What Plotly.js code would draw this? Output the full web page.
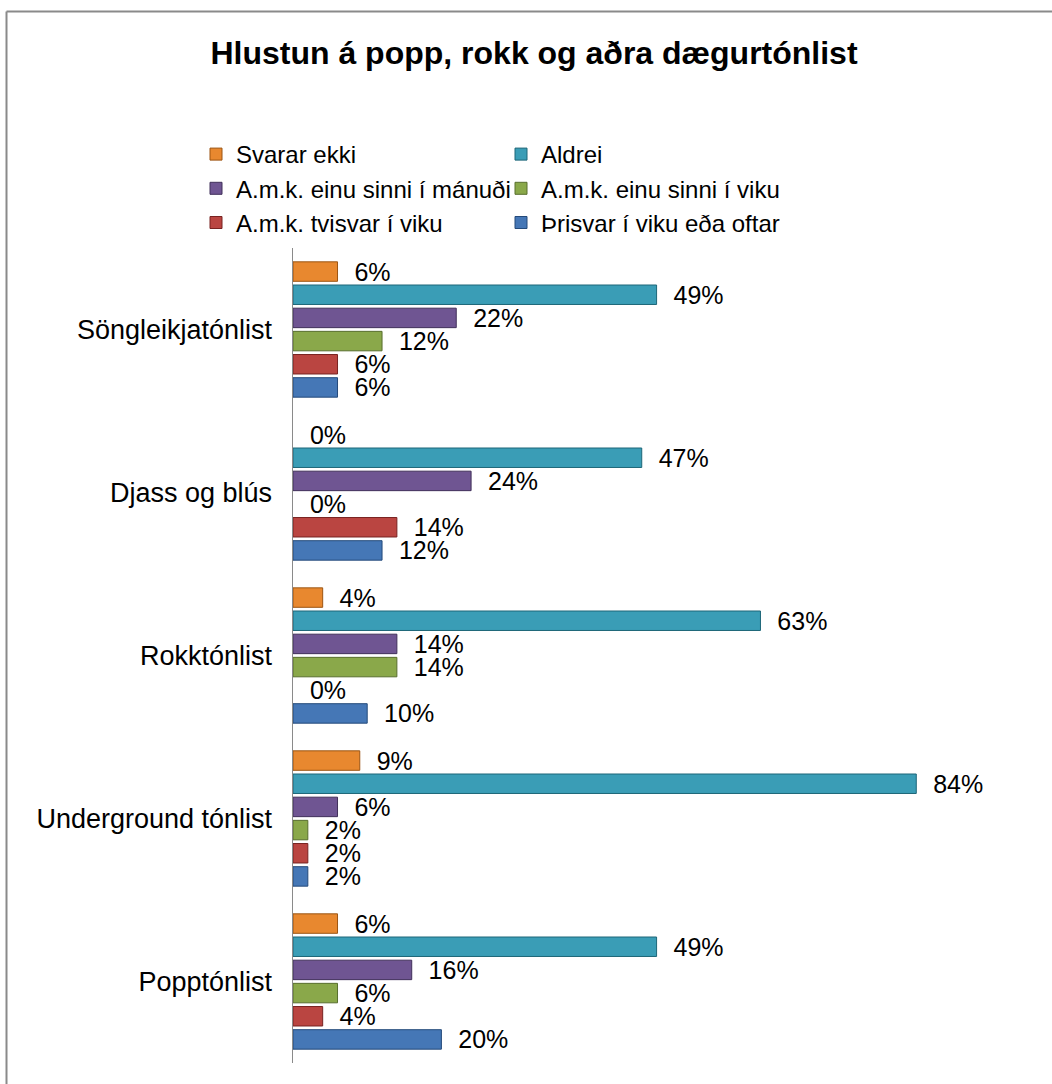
<!DOCTYPE html>
<html>
<head>
<meta charset="utf-8">
<script src="https://cdn.plot.ly/plotly-3.0.1.min.js"></script>
<style>
  html, body { margin: 0; padding: 0; background: #fff; }
  #chart { width: 1052px; height: 1084px; }
</style>
</head>
<body>
<div id="chart"></div>
<script>
// Categories (top to bottom as shown)
const categories = ['Söngleikjatónlist', 'Djass og blús', 'Rokktónlist', 'Underground tónlist', 'Popptónlist'];

// Series names
const seriesNames = [
  'Svarar ekki',
  'Aldrei',
  'A.m.k. einu sinni í mánuði',
  'A.m.k. einu sinni í viku',
  'A.m.k. tvisvar í viku',
  'Þrisvar í viku eða oftar'
];

// Series values (%) per category
const svararEkki = [6, 0, 4, 9, 6];
const aldrei     = [49, 47, 63, 84, 49];
const manudi     = [22, 24, 14, 6, 16];
const einuViku   = [12, 0, 14, 2, 6];
const tvisvar    = [6, 14, 0, 2, 4];
const thrisvar   = [6, 12, 10, 2, 20];

const seriesValues = [svararEkki, aldrei, manudi, einuViku, tvisvar, thrisvar];

const fillColors = ['#E8882F', '#3A9DB6', '#6F5592', '#8AA84A', '#BA4541', '#4577B6'];
const lineColors = ['#9C5513', '#1D6678', '#40305A', '#586E2D', '#782321', '#244A7A'];

const FONT = 'Liberation Sans, Arial, sans-serif';

const traces = seriesNames.map((name, i) => ({
  type: 'bar',
  orientation: 'h',
  name: name,
  y: categories,
  x: seriesValues[i],
  marker: {
    color: fillColors[i],
    line: { color: lineColors[i], width: seriesValues[i].map(v => (v > 0 ? 1 : 0)) }
  },
  texttemplate: '\u00a0\u00a0%{x}%',
  textposition: 'outside',
  constraintext: 'none',
  cliponaxis: false,
  textfont: { family: FONT, size: 25, color: '#000' },
  hoverinfo: 'skip'
}));

const L = 150, R = 40, T = 248, B = 21;
const W = 1052, H = 1084;
const pw = W - L - R;   // paper width
const ph = H - T - B;   // paper height
const axisStart = (293 - L) / pw;

const px2x = px => (px - L) / pw;
const py2y = py => (H - B - py) / ph;

const layout = {
  width: W,
  height: H,
  paper_bgcolor: '#fff',
  plot_bgcolor: '#fff',
  margin: { l: L, r: R, t: T, b: B },
  barmode: 'group',
  bargap: 0.147,
  bargroupgap: 0.16,
  font: { family: FONT, color: '#000' },
  title: {
    text: 'Hlustun á popp, rokk og aðra dægurtónlist',
    font: { family: FONT, size: 32, color: '#000', weight: 'bold' },
    xref: 'container', yref: 'container',
    x: 534 / W, xanchor: 'center',
    y: 1 - 53 / H, yanchor: 'middle'
  },
  showlegend: true,
  legend: {
    orientation: 'h',
    x: px2x(196), xanchor: 'left',
    y: py2y(132), yanchor: 'top',
    entrywidth: 260,
    entrywidthmode: 'pixels',
    traceorder: 'normal',
    font: { family: FONT, size: 24, color: '#000' },
    bgcolor: 'rgba(0,0,0,0)'
  },
  xaxis: {
    domain: [axisStart, 1],
    range: [0, 96.9],
    showgrid: false,
    zeroline: false,
    showline: false,
    showticklabels: false,
    ticks: '',
    fixedrange: true
  },
  yaxis: {
    type: 'category',
    autorange: 'reversed',
    showgrid: false,
    zeroline: false,
    showline: true,
    linecolor: '#8a8a8a',
    linewidth: 1.5,
    ticks: '',
    ticklabelstandoff: 14,
    automargin: false,
    tickfont: { family: FONT, size: 27, color: '#000' },
    fixedrange: true
  },
  shapes: [
    { type: 'line', xref: 'paper', yref: 'paper',
      x0: px2x(6.5), x1: px2x(1100), y0: py2y(11.5), y1: py2y(11.5),
      line: { color: '#8a8a8a', width: 2 } },
    { type: 'line', xref: 'paper', yref: 'paper',
      x0: px2x(6.5), x1: px2x(6.5), y0: py2y(11.5), y1: py2y(1200),
      line: { color: '#8a8a8a', width: 2 } }
  ]
};

Plotly.newPlot('chart', traces, layout, { displayModeBar: false, staticPlot: true });
</script>
</body>
</html>
